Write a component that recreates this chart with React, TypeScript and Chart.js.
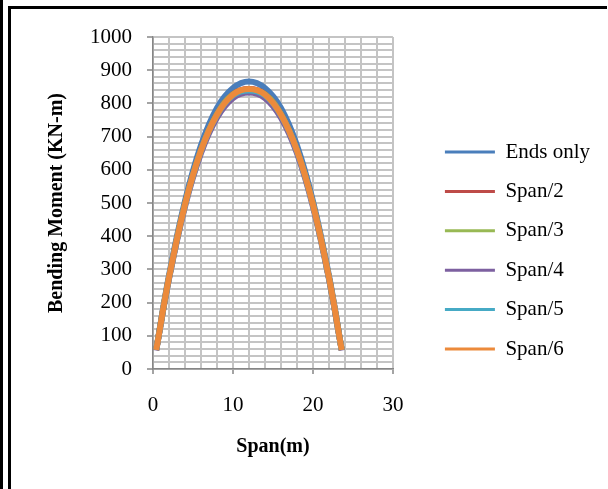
import React, { useEffect, useRef } from 'react';
import { Chart, registerables } from 'chart.js';

Chart.register(...registerables);

// Data
const spanX = [0.4, 2, 4, 6, 8, 10, 12, 14, 16, 18, 20, 22, 23.6];
const seriesLabels = ['Ends only', 'Span/2', 'Span/3', 'Span/4', 'Span/5', 'Span/6'];
const endsOnly = [58, 282, 506, 674, 786, 846, 866, 846, 786, 674, 506, 282, 58];
const span2 = [57, 276, 497, 660, 768, 828, 843, 828, 768, 660, 497, 276, 57];
const span3 = [57, 275, 496, 659, 767, 827, 841, 827, 767, 659, 496, 275, 57];
const span4 = [56, 271, 489, 650, 757, 816, 833, 816, 757, 650, 489, 271, 56];
const span5 = [57, 274, 494, 657, 764, 824, 839, 824, 764, 657, 494, 274, 57];
const span6 = [57, 275, 495, 658, 766, 826, 843, 826, 766, 658, 495, 275, 57];
const seriesValues = [endsOnly, span2, span3, span4, span5, span6];
const seriesColors = ['#4A7EBB', '#BE4B48', '#98B954', '#7D60A0', '#46AAC5', '#EC8A3B'];
const xTickLabels = [0, 10, 20, 30];
const yTickLabels = [0, 100, 200, 300, 400, 500, 600, 700, 800, 900, 1000];

const FONT = "'Liberation Serif', 'Times New Roman', serif";
const GRID = '#c4c4c4';
const AXIS = '#868686';

export default function App() {
  const ref = useRef<HTMLCanvasElement>(null);

  useEffect(() => {
    const canvas = ref.current;
    if (!canvas) return;
    const datasets = seriesValues.map((vals, i) => ({
      label: seriesLabels[i],
      data: spanX.map((x, j) => ({ x, y: vals[j] })),
      borderColor: seriesColors[i],
      backgroundColor: seriesColors[i],
      borderWidth: 6,
      pointRadius: 0,
      pointHoverRadius: 0,
      tension: 0.4,
      fill: false,
      order: seriesLabels.length - i,
    }));

    const chart = new Chart(canvas, {
      type: 'line',
      data: { datasets },
      options: {
        animation: false,
        responsive: false,
        events: [],
        layout: { padding: { left: 45, top: 37, right: 8, bottom: 25 } },
        plugins: {
          tooltip: { enabled: false },
          legend: {
            position: 'right',
            align: 'center',
            maxWidth: 200,
            labels: {
              boxWidth: 50,
              boxHeight: 3,
              padding: 18.4,
              color: '#000',
              font: { family: FONT, size: 21 },
              sort: (a: any, b: any) => a.datasetIndex - b.datasetIndex,
              generateLabels: (c: any) =>
                (Chart.defaults.plugins.legend.labels.generateLabels as any)(c).map((l: any) => ({
                  ...l,
                  fillStyle: l.strokeStyle,
                  lineWidth: 0,
                })),
            },
          },
        },
        scales: {
          x: {
            type: 'linear',
            min: 0,
            max: 30,
            afterFit: (s: any) => {
              s.height = 95;
            },
            ticks: {
              stepSize: 2,
              autoSkip: false,
              maxRotation: 0,
              padding: 18.4,
              color: '#000',
              font: { family: FONT, size: 21 },
              callback: (v: any) => (xTickLabels.includes(Number(v)) ? String(v) : ''),
            },
            grid: {
              color: GRID,
              lineWidth: 2,
              tickLength: 5,
              tickWidth: 1.5,
              tickColor: (ctx: any) =>
                ctx.tick && xTickLabels.includes(ctx.tick.value) ? AXIS : 'rgba(0,0,0,0)',
            },
            border: { color: AXIS, width: 1.5 },
            title: {
              display: true,
              text: 'Span(m)',
              color: '#000',
              font: { family: FONT, size: 20, weight: 'bold' },
              padding: { top: 17.4, bottom: 5 },
            },
          },
          y: {
            type: 'linear',
            min: 0,
            max: 1000,
            afterFit: (s: any) => {
              s.width = 108;
            },
            ticks: {
              stepSize: 20,
              autoSkip: false,
              padding: 15,
              color: '#000',
              font: { family: FONT, size: 21 },
              callback: (v: any) => (yTickLabels.includes(Number(v)) ? String(v) : ''),
            },
            grid: {
              color: GRID,
              lineWidth: 2,
              tickLength: 6,
              tickWidth: 1.5,
              tickColor: (ctx: any) =>
                ctx.tick && yTickLabels.includes(ctx.tick.value) ? AXIS : 'rgba(0,0,0,0)',
            },
            border: { color: AXIS, width: 1.5 },
            title: {
              display: true,
              text: 'Bending Moment (KN-m)',
              color: '#000',
              font: { family: FONT, size: 20, weight: 'bold' },
              padding: { top: 0, bottom: 0 },
            },
          },
          y2: {
            type: 'linear',
            position: 'right',
            min: 0,
            max: 1,
            display: true,
            afterFit: (s: any) => {
              s.width = 33.6;
            },
            grid: { display: false },
            ticks: { display: false },
            border: { display: false },
          },
        },
      } as any,
    });
    return () => chart.destroy();
  }, []);

  return (
    <div style={{ position: 'fixed', left: 0, top: 0, width: 608, height: 489, background: '#fff' }}>
      <canvas ref={ref} width={608} height={489} style={{ position: 'absolute', left: 0, top: 0 }} />
      <div style={{ position: 'absolute', left: 0, top: 0, width: 3, height: 489, background: '#000' }} />
      <div style={{ position: 'absolute', left: 8, top: 6, width: 3, height: 483, background: '#000' }} />
      <div style={{ position: 'absolute', left: 8, top: 6, width: 599, height: 3, background: '#000' }} />
    </div>
  );
}
